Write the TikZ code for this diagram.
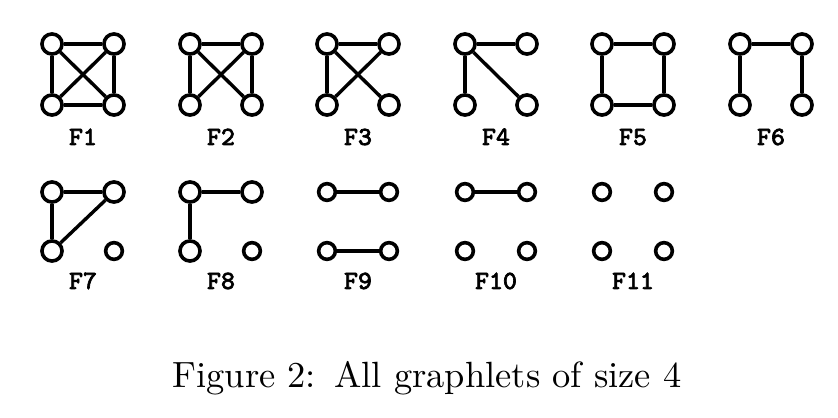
\documentclass[tikz,border=0pt]{standalone}
\usepackage{fontspec}
\newfontfamily\glabfont[FakeBold=2.6]{Latin Modern Mono}
\begin{document}
\begin{tikzpicture}[x=0.2933pt,y=-0.2933pt,
  vert/.style={draw,circle,line width=1.05pt,fill=white,inner sep=0pt,minimum size=5.9pt},
  svert/.style={vert,minimum size=4.9pt},
  edge/.style={line width=1pt},
  glabel/.style={font=\glabfont\fontsize{7.7}{9}\selectfont,anchor=base}]
\useasboundingbox (0,0) rectangle (838,418);

% first row
\node(F1a) at (52,44) [vert]{};
\node(F1b) at (114,44) [vert]{};
\node(F1c) at (52,105) [vert]{};
\node(F1d) at (114,105) [vert]{};
\node(F1) at (83,145) [glabel]{F1};
\draw[edge] (F1a) -- (F1b);
\draw[edge] (F1c) -- (F1d);
\draw[edge] (F1a) -- (F1c);
\draw[edge] (F1b) -- (F1d);
\draw[edge] (F1a) -- (F1d);
\draw[edge] (F1b) -- (F1c);

\node(F2a) at (190,44) [vert]{};
\node(F2b) at (252,44) [vert]{};
\node(F2c) at (190,105) [vert]{};
\node(F2d) at (252,105) [vert]{};
\node(F2) at (221,145) [glabel]{F2};
\draw[edge] (F2a) -- (F2b);
\draw[edge] (F2a) -- (F2c);
\draw[edge] (F2b) -- (F2d);
\draw[edge] (F2a) -- (F2d);
\draw[edge] (F2b) -- (F2c);

\node(F3a) at (327,44) [vert]{};
\node(F3b) at (389,44) [vert]{};
\node(F3c) at (327,105) [vert]{};
\node(F3d) at (389,105) [vert]{};
\node(F3) at (358,145) [glabel]{F3};
\draw[edge] (F3a) -- (F3b);
\draw[edge] (F3a) -- (F3c);
\draw[edge] (F3a) -- (F3d);
\draw[edge] (F3b) -- (F3c);

\node(F4a) at (465,44) [vert]{};
\node(F4b) at (527,44) [vert]{};
\node(F4c) at (465,105) [vert]{};
\node(F4d) at (527,105) [vert]{};
\node(F4) at (496,145) [glabel]{F4};
\draw[edge] (F4a) -- (F4b);
\draw[edge] (F4a) -- (F4c);
\draw[edge] (F4a) -- (F4d);

\node(F5a) at (602,44) [vert]{};
\node(F5b) at (664,44) [vert]{};
\node(F5c) at (602,105) [vert]{};
\node(F5d) at (664,105) [vert]{};
\node(F5) at (633,145) [glabel]{F5};
\draw[edge] (F5a) -- (F5b);
\draw[edge] (F5b) -- (F5d);
\draw[edge] (F5d) -- (F5c);
\draw[edge] (F5c) -- (F5a);

\node(F6a) at (740,44) [vert]{};
\node(F6b) at (802,44) [vert]{};
\node(F6c) at (740,105) [vert]{};
\node(F6d) at (802,105) [vert]{};
\node(F6) at (771,145) [glabel]{F6};
\draw[edge] (F6c) -- (F6a);
\draw[edge] (F6a) -- (F6b);
\draw[edge] (F6b) -- (F6d);

% second row
\node(F7a) at (52,192) [vert]{};
\node(F7b) at (114,192) [vert]{};
\node(F7c) at (52,251) [vert]{};
\node(F7d) at (114,251) [svert]{};
\node(F7) at (83,289) [glabel]{F7};
\draw[edge] (F7a) -- (F7b);
\draw[edge] (F7b) -- (F7c);
\draw[edge] (F7c) -- (F7a);

\node(F8a) at (190,192) [vert]{};
\node(F8b) at (252,192) [vert]{};
\node(F8c) at (190,251) [vert]{};
\node(F8d) at (252,251) [svert]{};
\node(F8) at (221,289) [glabel]{F8};
\draw[edge] (F8b) -- (F8a);
\draw[edge] (F8a) -- (F8c);

\node(F9a) at (327,192) [svert]{};
\node(F9b) at (389,192) [svert]{};
\node(F9c) at (327,251) [svert]{};
\node(F9d) at (389,251) [svert]{};
\node(F9) at (358,289) [glabel]{F9};
\draw[edge] (F9a) -- (F9b);
\draw[edge] (F9c) -- (F9d);

\node(F10a) at (465,192) [svert]{};
\node(F10b) at (527,192) [svert]{};
\node(F10c) at (465,251) [svert]{};
\node(F10d) at (527,251) [svert]{};
\node(F10) at (496,289) [glabel]{F10};
\draw[edge] (F10a) -- (F10b);

\node(F11a) at (602,192) [svert]{};
\node(F11b) at (664,192) [svert]{};
\node(F11c) at (602,251) [svert]{};
\node(F11d) at (664,251) [svert]{};
\node(F11) at (633,289) [glabel]{F11};

\node(cap) at (427,388) [anchor=base,font=\fontsize{10.7}{13}\selectfont]{Figure 2:\hskip 0.5em All graphlets of size 4};

\end{tikzpicture}
\end{document}
